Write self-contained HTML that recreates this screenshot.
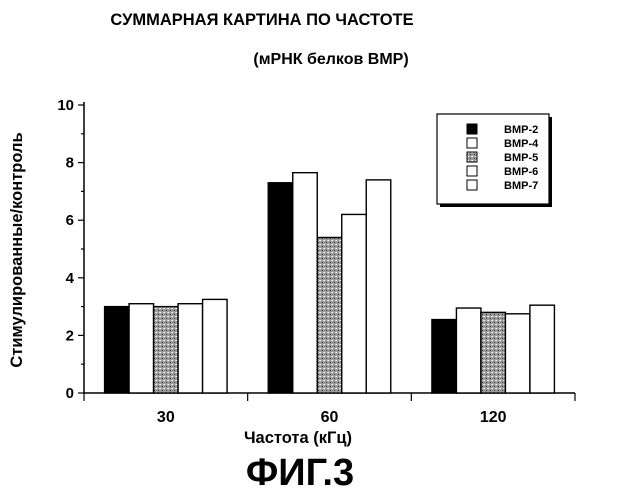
<!DOCTYPE html>
<html><head><meta charset="utf-8"><style>
body{margin:0;background:#fff;width:619px;height:500px;overflow:hidden}
svg{display:block;font-family:"Liberation Sans",sans-serif}
</style></head><body>
<svg width="619" height="500">
<defs>
<pattern id="dots" width="4" height="4" patternUnits="userSpaceOnUse">
<rect width="4" height="4" fill="#9a9a9a"/><rect width="1" height="1" fill="#fff"/><rect x="2" y="2" width="1" height="1" fill="#333"/><rect x="3" y="0" width="1" height="1" fill="#ddd"/>
</pattern>
</defs>
<text x="262" y="25" text-anchor="middle" font-size="16.5" font-weight="bold">СУММАРНАЯ КАРТИНА ПО ЧАСТОТЕ</text>
<text x="331" y="64" text-anchor="middle" font-size="16" font-weight="bold">(мРНК белков BMP)</text>
<text transform="translate(22,250) rotate(-90)" text-anchor="middle" font-size="16.5" font-weight="bold">Стимулированные/контроль</text>
<text x="298" y="443" text-anchor="middle" font-size="16.5" font-weight="bold">Частота (кГц)</text>
<text x="300" y="485" text-anchor="middle" font-size="38" font-weight="bold">ФИГ.3</text>
<g id="axes"></g>
<g id="bars"></g>
<g>
<rect x="440" y="117" width="112" height="90" fill="#000"/>
<rect x="437" y="114" width="112" height="90" fill="#fff" stroke="#000" stroke-width="1.2"/>
<g id="legend-items"></g>
</g>
</svg>
<script>
const categories=["30","60","120"];
const seriesNames=["BMP-2","BMP-4","BMP-5","BMP-6","BMP-7"];
const bmp2=[3.0,7.3,2.55];
const bmp4=[3.1,7.65,2.95];
const bmp5=[3.0,5.4,2.8];
const bmp6=[3.1,6.2,2.75];
const bmp7=[3.25,7.4,3.05];
const yTicks=[0,2,4,6,8,10];
const series=[bmp2,bmp4,bmp5,bmp6,bmp7];
const fills=["#000","#fff","url(#dots)","#fff","#fff"];
const NS="http://www.w3.org/2000/svg";
const x0=84,x1=575,y0=393,yTop=105,yMax=10;
const y=v=>y0-(v/yMax)*(y0-yTop);
const gw=(x1-x0)/categories.length;
const bw=24.5;
function mk(t,a,p){const e=document.createElementNS(NS,t);for(const k in a)e.setAttribute(k,a[k]);p.appendChild(e);return e;}
const axes=document.getElementById('axes');
let e=mk('line',{x1:x0,y1:y0,x2:x0,y2:yTop-3,stroke:'#000','stroke-width':1.5},axes);


e=mk('line',{x1:x0,y1:y0,x2:x1,y2:y0,stroke:'#000','stroke-width':1.5},axes);


for(let v=0;v<=yMax;v++){mk('line',{x1:x0-(v%2?3:6),y1:y(v),x2:x0,y2:y(v),stroke:'#000','stroke-width':1.2},axes);}
yTicks.forEach(v=>{const t=mk('text',{x:x0-10,y:y(v)+5,'text-anchor':'end','font-size':15,'font-weight':'bold'},axes);t.textContent=v;

});
for(let i=0;i<=categories.length;i++){mk('line',{x1:x0+gw*i,y1:y0,x2:x0+gw*i,y2:y0+8,stroke:'#000','stroke-width':1.2},axes);}
categories.forEach((c,i)=>{const t=mk('text',{x:x0+gw*(i+0.5),y:y0+29,'text-anchor':'middle','font-size':16,'font-weight':'bold'},axes);t.textContent=c;

});
const bars=document.getElementById('bars');
categories.forEach((c,i)=>{const cx=x0+gw*(i+0.5);const start=cx-bw*series.length/2;
series.forEach((s,j)=>{const r=mk('rect',{x:start+j*bw,y:y(s[i]),width:bw,height:y0-y(s[i]),fill:fills[j],stroke:'#000','stroke-width':1.4},bars);

});});
const li=document.getElementById('legend-items');
seriesNames.forEach((n,j)=>{const yy=124+j*14;mk('rect',{x:467,y:yy,width:10,height:10,fill:fills[j],stroke:'#000','stroke-width':1},li);
const t=mk('text',{x:504,y:yy+9,'font-size':11,'font-weight':'bold'},li);t.textContent=n;

});
</script>
</body></html>
